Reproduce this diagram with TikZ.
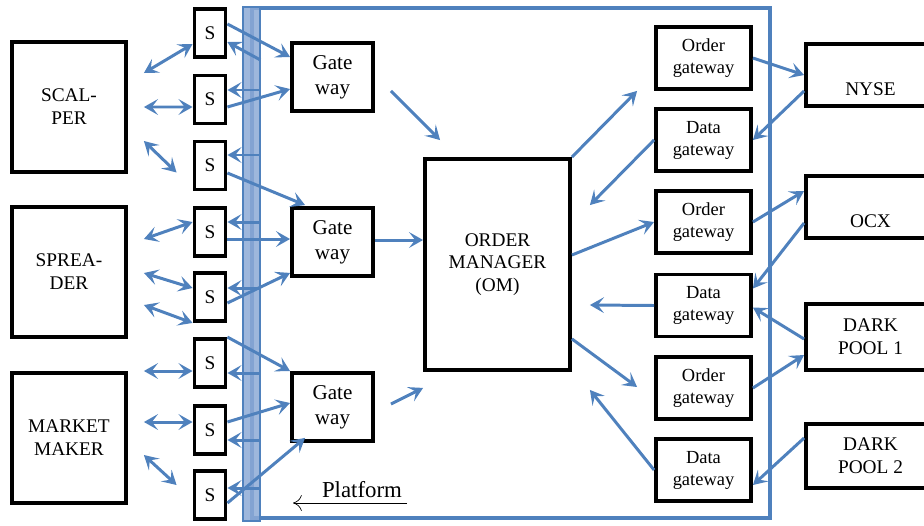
\documentclass[tikz,border=0pt]{standalone}
\usepackage{fontspec}
\setmainfont{Liberation Serif}
\usetikzlibrary{arrows.meta}

\definecolor{linkblue}{RGB}{79,129,189}
\definecolor{barblue}{RGB}{141,170,214}

\tikzset{
  box/.style={draw, line width=2.2pt, fill=white, align=center, inner sep=0pt,
    font=\fontsize{11}{13}\selectfont},
  trader/.style={box, minimum width=2.28cm, minimum height=2.6cm},
  sbox/.style={box, minimum width=0.62cm, minimum height=0.96cm},
  gwbox/.style={box, minimum width=1.62cm, minimum height=1.36cm,
    font=\fontsize{12}{14}\selectfont},
  rgbox/.style={box, minimum width=1.9cm, minimum height=1.24cm,
    font=\fontsize{10.5}{12.5}\selectfont},
  exbox/.style={box, minimum width=2.58cm},
  link/.style={draw=linkblue, line width=1.7pt,
    -{Stealth[length=8pt,width=9pt,inset=3.5pt]}},
  both/.style={link, {Stealth[length=8pt,width=9pt,inset=3.5pt]}-{Stealth[length=8pt,width=9pt,inset=3.5pt]}},
}

\begin{document}
\begin{tikzpicture}[x=0.02cm, y=-0.02cm]
\useasboundingbox (0,0) rectangle (924,525);
\clip (0,0) rectangle (924,525);

% platform frame and its wall
\draw[linkblue, line width=2.2pt] (252,8) rectangle (770,518);
\draw[linkblue, line width=1.2pt, fill=barblue, fill opacity=0.85] (243,7) rectangle (260,521);

% traders
\node [trader] (scal) at (69,107) {SCAL-\\PER};
\node [trader] (spread) at (69,272) {SPREA-\\DER};
\node [trader] (mm) at (69,438) {MARKET\\MAKER};

% S boxes
\node [sbox] (s1) at (210,33) {S};
\node [sbox] (s2) at (210,99.5) {S};
\node [sbox] (s3) at (210,165.5) {S};
\node [sbox] (s4) at (210,232) {S};
\node [sbox] (s5) at (210,297) {S};
\node [sbox] (s6) at (210,363) {S};
\node [sbox] (s7) at (210,430) {S};
\node [sbox] (s8) at (210,495) {S};

% gateways and order manager
\node [gwbox] (gw1) at (332.5,77) {Gate\\way};
\node [gwbox] (gw2) at (332.5,242) {Gate\\way};
\node [gwbox] (gw3) at (332.5,407) {Gate\\way};
\node [box, minimum width=2.9cm, minimum height=4.22cm] (om) at (497.5,264.5)
  {ORDER\\MANAGER\\(OM)};

\node [rgbox] (og1) at (703.5,58) {Order\\gateway};
\node [rgbox] (dg1) at (703.5,140) {Data\\gateway};
\node [rgbox] (og2) at (703.5,222) {Order\\gateway};
\node [rgbox] (dg2) at (703.5,305.5) {Data\\gateway};
\node [rgbox] (og3) at (703.5,388) {Order\\gateway};
\node [rgbox] (dg3) at (703.5,470) {Data\\gateway};

% exchanges
\node [exbox, minimum height=1.24cm] (nyse) at (870.5,75) {\mbox{}\\[11pt]NYSE};
\node [exbox, minimum height=1.24cm] (ocx) at (870.5,207) {\mbox{}\\[11pt]OCX};
\node [exbox, minimum height=1.32cm] (dp1) at (870.5,337) {DARK\\POOL 1};
\node [exbox, minimum height=1.28cm] (dp2) at (870.5,456) {DARK\\POOL 2};

% traders <-> S
\draw[both] ([shift={(16,-34)}]scal.east) -- ([shift={(0,11)}]s1.west);
\draw[both] ([shift={(16,0)}]scal.east) -- ([shift={(0,7.5)}]s2.west);
\draw[both] ([shift={(16,34)}]scal.east) -- ([shift={(-16,7)}]s3.west);
\draw[both] ([shift={(16,-33)}]spread.east) -- ([shift={(0,-10)}]s4.west);
\draw[both] ([shift={(16,1)}]spread.east) -- ([shift={(0,-9)}]s5.west);
\draw[both] ([shift={(16,33)}]spread.east) -- (s5.south west);
\draw[both] ([shift={(16,-67)}]mm.east) -- ([shift={(0,8)}]s6.west);
\draw[both] ([shift={(16,-16)}]mm.east) -- ([shift={(0,-8)}]s7.west);
\draw[both] ([shift={(16,17)}]mm.east) -- ([shift={(-16,-10)}]s8.west);

% S <-> gateways
\draw[link] ([shift={(0,-9)}]s1.east) -- ([shift={(0,-20)}]gw1.west);
\draw[link] ([shift={(33,27)}]s1.east) -- ([shift={(0,9)}]s1.east);
\draw[link] ([shift={(33,-9.5)}]s2.east) -- ([shift={(0,-9.5)}]s2.east);
\draw[link] ([shift={(0,7.5)}]s2.east) -- ([shift={(0,12)}]gw1.west);
\draw[link] ([shift={(33,-10.5)}]s3.east) -- ([shift={(0,-10.5)}]s3.east);
\draw[link] ([shift={(0,7.5)}]s3.east) -- ([shift={(15,-1)}]gw2.north west);
\draw[link] ([shift={(33,-10)}]s4.east) -- ([shift={(0,-10)}]s4.east);
\draw[link] ([shift={(0,7)}]s4.east) -- ([shift={(0,-3)}]gw2.west);
\draw[link] ([shift={(33,-9)}]s5.east) -- ([shift={(0,-9)}]s5.east);
\draw[link] ([shift={(0,6)}]s5.east) -- ([shift={(0,-5)}]gw2.south west);
\draw[link] (s6.north east) -- (gw3.north west);
\draw[link] ([shift={(33,10)}]s6.east) -- ([shift={(0,10)}]s6.east);
\draw[link] ([shift={(0,-8)}]s7.east) -- ([shift={(0,-4)}]gw3.west);
\draw[link] ([shift={(33,10)}]s7.east) -- ([shift={(0,10)}]s7.east);
\draw[link] ([shift={(33,-7)}]s8.east) -- ([shift={(0,-7)}]s8.east);
\draw[link] ([shift={(0,8)}]s8.east) -- ([shift={(15,-5)}]gw3.south west);

% gateways -> OM
\draw[link] ([shift={(16,14)}]gw1.east) -- ([shift={(17,-17)}]om.north west);
\draw[link] ([shift={(0,-2)}]gw2.east) -- ([shift={(0,-24.5)}]om.west);
\draw[link] ([shift={(16,-3)}]gw3.east) -- ([shift={(0,16)}]om.south west);

% OM <-> order / data gateways
\draw[link] (om.north east) -- ([shift={(-17,0)}]og1.south west);
\draw[link] (dg1.west) -- ([shift={(18,48)}]om.north east);
\draw[link] ([shift={(0,-9.5)}]om.east) -- (og2.west);
\draw[link] (dg2.west) -- ([shift={(18,40.5)}]om.east);
\draw[link] ([shift={(0,-33)}]om.south east) -- ([shift={(-17,-1)}]og3.west);
\draw[link] (dg3.west) -- ([shift={(18,18)}]om.south east);

% gateways <-> exchanges
\draw[link] (og1.east) -- (nyse.west);
\draw[link] ([shift={(0,16)}]nyse.west) -- (dg1.east);
\draw[link] (og2.east) -- ([shift={(0,-16)}]ocx.west);
\draw[link] ([shift={(0,16)}]ocx.west) -- ([shift={(0,-17)}]dg2.east);
\draw[link] ([shift={(0,2)}]dp1.west) -- ([shift={(0,2)}]dg2.east);
\draw[link] (og3.east) -- ([shift={(0,18)}]dp1.west);
\draw[link] ([shift={(0,-18)}]dp2.west) -- ([shift={(0,15)}]dg3.east);

% platform label
\node [font=\fontsize{13}{15}\selectfont] (plat) at (362,490) {Platform};
\coordinate (platR) at (407,503);
\coordinate (platL) at (293,503);
\draw[-{To[length=5pt,width=9pt]}] (platR) -- (platL);

\end{tikzpicture}
\end{document}
